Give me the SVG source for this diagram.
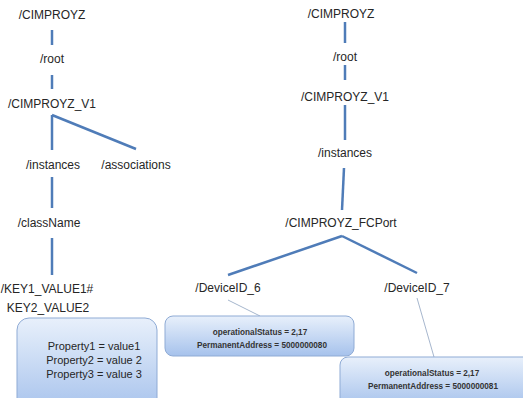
<svg xmlns="http://www.w3.org/2000/svg" width="523" height="398" viewBox="0 0 523 398">
<defs>
<linearGradient id="bg" x1="0" y1="0" x2="0" y2="1">
<stop offset="0" stop-color="#e8f0fb"/>
<stop offset="1" stop-color="#a6c2ec"/>
</linearGradient>
<style>
.t{font-family:"Liberation Sans",Arial,sans-serif;font-size:12px;fill:#262626;text-anchor:middle}
.p{font-family:"Liberation Sans",Arial,sans-serif;font-size:11px;fill:#262626;text-anchor:middle}
.s{font-family:"Liberation Sans",Arial,sans-serif;font-size:8.2px;font-weight:bold;fill:#333333;text-anchor:middle}
.e{stroke:#4f7cb8;stroke-width:2.5;fill:none}
.c{stroke:#8fa3c0;stroke-width:0.8;fill:none}
.b{fill:url(#bg);stroke:#8fabd5;stroke-width:1}
</style>
</defs>
<rect width="523" height="398" fill="#ffffff"/>
<g id="connectors">
<line class="e" x1="52" y1="30" x2="52" y2="45"/>
<line class="e" x1="52" y1="75" x2="52" y2="89"/>
<line class="e" x1="52" y1="115" x2="52" y2="150"/>
<line class="e" x1="52" y1="115" x2="136" y2="149"/>
<line class="e" x1="52" y1="177" x2="52" y2="208"/>
<line class="e" x1="52" y1="238" x2="52" y2="275"/>
<line class="e" x1="345" y1="22" x2="345" y2="43"/>
<line class="e" x1="345" y1="65" x2="345" y2="80"/>
<line class="e" x1="345" y1="105" x2="345" y2="140"/>
<line class="e" x1="344" y1="168" x2="342" y2="210"/>
<line class="e" x1="342" y1="236" x2="228" y2="275"/>
<line class="e" x1="342" y1="236" x2="417" y2="273"/>
<line class="c" x1="228" y1="300" x2="260" y2="316"/>
<line class="c" x1="417" y1="298" x2="434" y2="357"/>
</g>
<g id="l-cimproyz"><text class="t" x="52" y="19">/CIMPROYZ</text></g>
<g id="l-root"><text class="t" x="52" y="63">/root</text></g>
<g id="l-v1"><text class="t" x="52" y="108">/CIMPROYZ_V1</text></g>
<g id="l-instances"><text class="t" x="53" y="169">/instances</text></g>
<g id="l-associations"><text class="t" x="136" y="169">/associations</text></g>
<g id="l-classname"><text class="t" x="49" y="227">/className</text></g>
<g id="l-key"><text class="t" x="47" y="293">/KEY1_VALUE1#</text><text class="t" x="48" y="312">KEY2_VALUE2</text></g>
<g id="l-props">
<rect class="b" x="17" y="318" width="140" height="95" rx="12"/>
<text class="p" x="94" y="350">Property1 = value1</text>
<text class="p" x="94" y="364">Property2 = value 2</text>
<text class="p" x="94" y="378">Property3 = value 3</text>
</g>
<g id="r-cimproyz"><text class="t" x="341" y="18">/CIMPROYZ</text></g>
<g id="r-root"><text class="t" x="345" y="61">/root</text></g>
<g id="r-v1"><text class="t" x="345" y="101">/CIMPROYZ_V1</text></g>
<g id="r-instances"><text class="t" x="345" y="157">/instances</text></g>
<g id="r-fcport"><text class="t" x="341" y="227">/CIMPROYZ_FCPort</text></g>
<g id="r-dev6"><text class="t" x="228" y="292">/DeviceID_6</text></g>
<g id="r-dev7"><text class="t" x="417" y="292">/DeviceID_7</text></g>
<g id="r-box6">
<rect class="b" x="165" y="316" width="189" height="40" rx="8"/>
<text class="s" x="260" y="335">operationalStatus = 2,17</text>
<text class="s" x="262" y="348">PermanentAddress = 5000000080</text>
</g>
<g id="r-box7">
<rect class="b" x="340" y="357" width="192" height="50" rx="8"/>
<text class="s" x="432" y="376">operationalStatus = 2,17</text>
<text class="s" x="433" y="389">PermanentAddress = 5000000081</text>
</g>
</svg>
